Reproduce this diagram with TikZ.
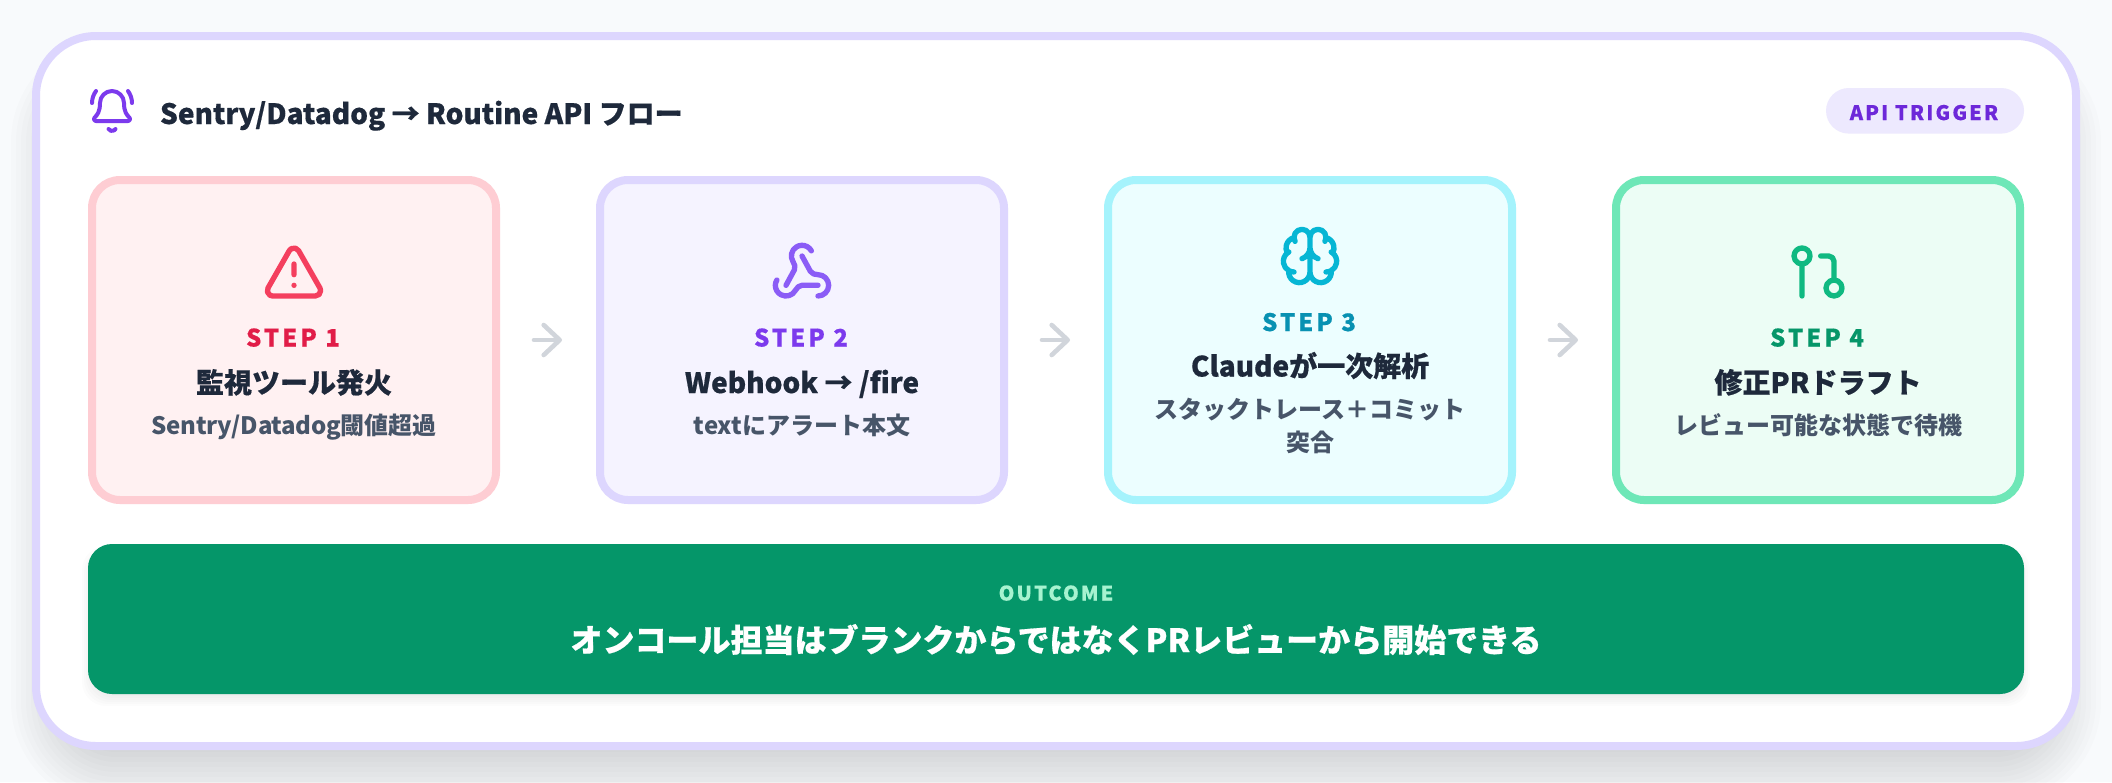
\documentclass[tikz,border=0pt]{standalone}
\usepackage{fontspec}
\usetikzlibrary{arrows.meta,svg.path}
\setmainfont{Noto Sans CJK JP}[BoldFeatures={FakeBold=0.5}]
\newfontfamily\spaced{Noto Sans CJK JP}[LetterSpace=11,BoldFeatures={FakeBold=0.4}]
\newfontfamily\spacedwide{Noto Sans CJK JP}[LetterSpace=12.5,BoldFeatures={FakeBold=0.4}]
\newfontfamily\medf{Noto Sans CJK JP}
\newfontfamily\medtight{Noto Sans CJK JP}[LetterSpace=-1.2]
\definecolor{pagebg}{HTML}{F8FAFC}
\definecolor{frame}{HTML}{DDD6FE}
\definecolor{ink}{HTML}{1E293B}
\definecolor{subink}{HTML}{475569}
\definecolor{arrowc}{HTML}{D1D5DB}
\definecolor{bellc}{HTML}{7C3AED}
\definecolor{pillbg}{HTML}{EDE9FE}
\definecolor{pillfg}{HTML}{6D28D9}
\definecolor{redbg}{HTML}{FFF1F2}\definecolor{redbd}{HTML}{FECDD3}\definecolor{redic}{HTML}{F43F5E}\definecolor{redtx}{HTML}{E11D48}
\definecolor{vibg}{HTML}{F5F3FF}\definecolor{vibd}{HTML}{DDD6FE}\definecolor{viic}{HTML}{8B5CF6}\definecolor{vitx}{HTML}{7C3AED}
\definecolor{cybg}{HTML}{ECFEFF}\definecolor{cybd}{HTML}{A5F3FC}\definecolor{cyic}{HTML}{06B6D4}\definecolor{cytx}{HTML}{0891B2}
\definecolor{grbg}{HTML}{ECFDF5}\definecolor{grbd}{HTML}{6EE7B7}\definecolor{gric}{HTML}{10B981}\definecolor{grtx}{HTML}{059669}
\definecolor{outc}{HTML}{059669}
\definecolor{outl}{HTML}{A7F3D0}
\tikzset{
  cardframe/.style={rectangle,draw=frame,fill=white,line width=4pt,rounded corners=30pt,minimum width=1020pt,minimum height=355pt,inner sep=0pt,outer sep=0pt},
  stepbox/.style={rectangle,line width=4pt,rounded corners=14pt,minimum width=202pt,minimum height=160pt,inner sep=0pt,outer sep=0pt},
  outcomebox/.style={rectangle,fill=outc,rounded corners=12pt,minimum width=968pt,minimum height=75pt,inner sep=0pt,outer sep=0pt},
  pillbox/.style={rectangle,fill=pillbg,rounded corners=11.4pt,minimum width=99pt,minimum height=22.8pt,inner sep=0pt,outer sep=0pt},
  txt/.style={inner sep=0pt,outer sep=0pt,anchor=base},
  headtxt/.style={txt,anchor=base west,text=ink,font=\fontsize{14}{17}\selectfont\bfseries},
  steptxt/.style={txt,font=\fontsize{12}{14}\selectfont\spacedwide\bfseries},
  titletxt/.style={txt,text=ink,font=\fontsize{14}{17}\selectfont\bfseries},
  subtxt/.style={txt,text=subink,font=\fontsize{12}{14}\selectfont\medf\bfseries},
  subtight/.style={txt,text=subink,font=\fontsize{12}{14}\selectfont\medtight\bfseries},
  pilltxt/.style={txt,text=pillfg,font=\fontsize{10}{12}\selectfont\spaced\bfseries},
  outltxt/.style={txt,text=outl,font=\fontsize{10}{12}\selectfont\spaced\bfseries},
  outmain/.style={txt,text=white,font=\fontsize{16}{19}\selectfont\bfseries},
  flow/.style={draw=arrowc,line width=2.3pt,line cap=round,line join=round,shorten <=19pt,shorten >=19pt,-{Straight Barb[round,length=8pt,width=15pt]}},
  bigicon/.style={line width=2.667pt,line cap=round,line join=round},
  smallicon/.style={line width=2pt,line cap=round,line join=round},
}
\begin{document}
\begin{tikzpicture}[x=0.5pt,y=-0.5pt]
\useasboundingbox (0,0) rectangle (2112,782);
\fill[pagebg] (0,0) rectangle (2112,782);
% card shadow
\foreach \e in {-50,-45,...,45}{
  \pgfmathsetmacro{\rr}{max(2,(\e+60)/2)}
  \fill[black,opacity=0.0135,rounded corners=\rr pt] (56-\e,82-\e) rectangle (2056+\e,762+\e);
}
\node[cardframe] (card) at (1056,391) {};
% header
\begin{scope}[shift={(88,87)},scale=1,yscale=-1]
\draw[smallicon,draw=bellc] svg {M10.268 21 a2 2 0 0 0 3.464 0 M22 8 c0 -2.3 -0.8 -4.3 -2 -6 M3.262 15.326 a1 1 0 0 0 0.738 1.674 h16 a1 1 0 0 0 0.74 -1.673 C19.41 13.956 18 12.499 18 8 a6 6 0 0 0 -6 -6 a6 6 0 0 0 -6 6 c0 4.499 -1.411 5.956 -2.738 7.326 M4 2 C2.8 3.7 2 5.7 2 8};
\end{scope}
\node[headtxt] (head) at (160,124) {Sentry/Datadog → Routine API フロー};
\node[pillbox] (pill) at (1925,110.8) {};
\node[pilltxt] (pilltext) at (1924,120) {API TRIGGER};
% step boxes
\node[stepbox,draw=redbd,fill=redbg] (s1) at (294,340) {};
\node[stepbox,draw=vibd,fill=vibg] (s2) at (802,340) {};
\node[stepbox,draw=cybd,fill=cybg] (s3) at (1310,340) {};
\node[stepbox,draw=grbd,fill=grbg] (s4) at (1818,340) {};
\draw[flow] (s1) -- (s2);
\draw[flow] (s2) -- (s3);
\draw[flow] (s3) -- (s4);
% icons
\begin{scope}[shift={(262,240)},scale=1.3333,yscale=-1]
\draw[bigicon,draw=redic] svg {M21.73 18 l-8 -14 a2 2 0 0 0 -3.48 0 l-8 14 a2 2 0 0 0 1.75 3 h16 a2 2 0 0 0 1.73 -3 M12 9 v4 M12 17 h0.01};
\end{scope}
\begin{scope}[shift={(770,240)},scale=1.3333,yscale=-1]
\draw[bigicon,draw=viic] svg {M18 16.98 h-5.99 c-1.1 0 -1.95 0.94 -2.48 1.9 a4 4 0 0 1 -7.53 -1.88 c0.01 -0.7 0.2 -1.4 0.57 -2 M6 17 l3.13 -5.78 c0.53 -0.97 0.1 -2.18 -0.5 -3.1 a4 4 0 1 1 6.89 -4.06 M12 6 l3.13 5.73 C15.66 12.7 16.9 13 18 13 a4 4 0 0 1 4 4 a4 4 0 0 1 -4 4};
\end{scope}
\begin{scope}[shift={(1278,224)},scale=1.3333,yscale=-1]
\draw[bigicon,draw=cyic] svg {M12 5 a3 3 0 0 0 -3 -3 a3 3 0 0 0 -2.997 3.125 a4 4 0 0 0 -2.526 5.77 a4 4 0 0 0 0.556 6.588 a4 4 0 0 0 3.707 4.503 a4 4 0 0 0 4.26 -3.986 Z M12 5 a3 3 0 0 1 3 -3 a3 3 0 0 1 2.997 3.125 a4 4 0 0 1 2.526 5.77 a4 4 0 0 1 -0.556 6.588 a4 4 0 0 1 -3.707 4.503 a4 4 0 0 1 -4.26 -3.986 Z M15 13 a4.5 4.5 0 0 1 -3 -4 a4.5 4.5 0 0 1 -3 4 M17.599 6.5 a3 3 0 0 0 0.399 -1.375 M6.003 5.125 a3 3 0 0 0 0.398 1.375 M3.477 10.896 a4 4 0 0 1 0.585 -0.396 M19.938 10.5 a4 4 0 0 1 0.585 0.396 M6 18 a4 4 0 0 1 -1.967 -0.516 M19.967 17.484 a4 4 0 0 1 -1.967 0.516};
\end{scope}
\begin{scope}[shift={(1786,240)},scale=1.3333,yscale=-1]
\draw[bigicon,draw=gric] svg {M21 18 a3 3 0 0 1 -3 3 a3 3 0 0 1 -3 -3 a3 3 0 0 1 3 -3 a3 3 0 0 1 3 3 Z M9 6 a3 3 0 0 1 -3 3 a3 3 0 0 1 -3 -3 a3 3 0 0 1 3 -3 a3 3 0 0 1 3 3 Z M13 6 h3 a2 2 0 0 1 2 2 v7 M6 9 v12};
\end{scope}
% step texts
\node[steptxt,text=redtx] (l1) at (293,346.5) {STEP 1};
\node[titletxt] (t1) at (294,393) {監視ツール発火};
\node[subtight] (d1) at (294,434) {Sentry/Datadog閾値超過};
\node[steptxt,text=vitx] (l2) at (801,346.5) {STEP 2};
\node[titletxt] (t2) at (802,393) {Webhook → /fire};
\node[subtxt] (d2) at (802,434) {textにアラート本文};
\node[steptxt,text=cytx] (l3) at (1309,331) {STEP 3};
\node[titletxt] (t3) at (1310,376.5) {Claudeが一次解析};
\node[subtxt] (d3a) at (1310,418.5) {スタックトレース＋コミット};
\node[subtxt] (d3b) at (1310,451) {突合};
\node[steptxt,text=grtx] (l4) at (1817,346.5) {STEP 4};
\node[titletxt] (t4) at (1818,393) {修正PRドラフト};
\node[subtxt] (d4) at (1818,434) {レビュー可能な状態で待機};
% outcome
\foreach \e in {-8,-6,...,6}{
  \fill[black,opacity=0.012,rounded corners=12pt] (88-\e,552-\e) rectangle (2024+\e,700+\e);
}
\node[outcomebox] (out) at (1056,619) {};
\node[outltxt] (outlab) at (1056,600.5) {OUTCOME};
\node[outmain] (outtext) at (1056,652) {オンコール担当はブランクからではなくPRレビューから開始できる};
\end{tikzpicture}
\end{document}
